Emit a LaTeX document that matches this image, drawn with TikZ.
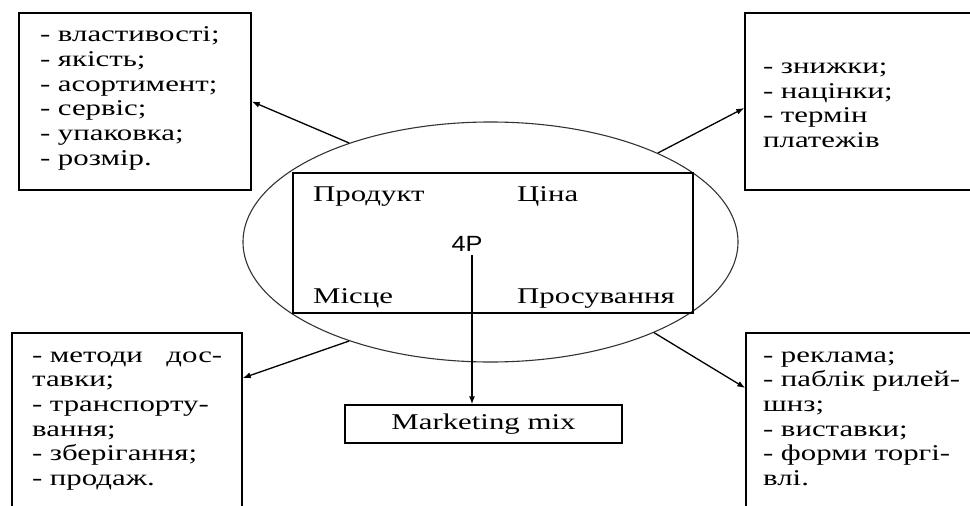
\documentclass[tikz,border=0pt]{standalone}
\usepackage{fontspec}
\setmainfont{Liberation Serif}[FakeStretch=1.37]
\newfontfamily\fourpfont{Liberation Sans}[FakeStretch=1.15]
\usetikzlibrary{shapes.geometric,arrows.meta}

\begin{document}
\begin{tikzpicture}[x=1pt,y=-1pt,
  pbox/.style={draw,line width=1.5pt,inner sep=0pt},
  plist/.style={anchor=north west,inner sep=0pt,align=left,text width=#1,
    font=\fontsize{22.5}{24.7}\selectfont},
  pword/.style={anchor=base west,inner sep=0pt,font=\fontsize{22.5}{24.7}\selectfont},
  parr/.style={-{Latex[length=8pt,width=6pt]},line width=1.3pt}]
\useasboundingbox (0,0) rectangle (970,506);
\clip (0,0) rectangle (970,506);

% the four boxes
\node[pbox,minimum width=232pt,minimum height=177pt] (prodbox) at (135,101.5) {};
\node[pbox,minimum width=235pt,minimum height=177pt] (pricebox) at (862.5,101.5) {};
\node[pbox,minimum width=230pt,minimum height=187pt] (placebox) at (127,426.5) {};
\node[pbox,minimum width=234pt,minimum height=187pt] (promobox) at (863,426.5) {};

\node[plist=200pt] (prodtext) at (40,24.2) {\strut- властивості;\\- якість;\\- асортимент;\\- сервіс;\\- упаковка;\\- розмір.};
\node[plist=200pt] (pricetext) at (763,56) {\strut- знижки;\\- націнки;\\- термін\\платежів};
\node[plist=190pt] (placetext) at (32,344.7) {\strut- методи \hfill дос-\\тавки;\\- транспорту-\\вання;\\- зберігання;\\- продаж.};
\node[plist=200pt] (promotext) at (763,344.7) {\strut- реклама;\\- паблік рилей-\\шнз;\\- виставки;\\- форми торгі-\\влі.};

% centre
\node[draw=black!80,line width=1.1pt,ellipse,minimum width=495pt,minimum height=240pt,inner sep=0pt] (mixell) at (490.5,242) {};
\node[pbox,minimum width=400pt,minimum height=140pt] (frame4p) at (493,243) {};
\node[pword] (prod) at (313,201.7) {Продукт};
\node[pword] (price) at (517,201.7) {Ціна};
\node[pword] (place) at (313,303) {Місце};
\node[pword] (promo) at (517,303) {Просування};
\node[anchor=base,inner sep=3pt,font=\fourpfont\fontsize{22}{24}\selectfont] (fourp) at (467,251.7) {4P};

\node[pbox,minimum width=277pt,minimum height=38pt,font=\fontsize{22.5}{24.7}\selectfont] (mixbox) at (483.5,424) {Marketing mix};

% arrows
\coordinate (fourpfoot) at ([xshift=5pt]fourp.south);
\draw[parr] (fourpfoot) -- (fourpfoot |- mixbox.north);
\draw[parr] (mixell.145.8) -- (prodbox.east);
\draw[parr] (mixell.28.9) -- ([yshift=-6.5pt]pricebox.west);
\draw[parr] (mixell.215.1) -- ([yshift=48.5pt]placebox.east);
\draw[parr] (mixell.331.3) -- ([yshift=38.5pt]promobox.west);
\end{tikzpicture}
\end{document}
